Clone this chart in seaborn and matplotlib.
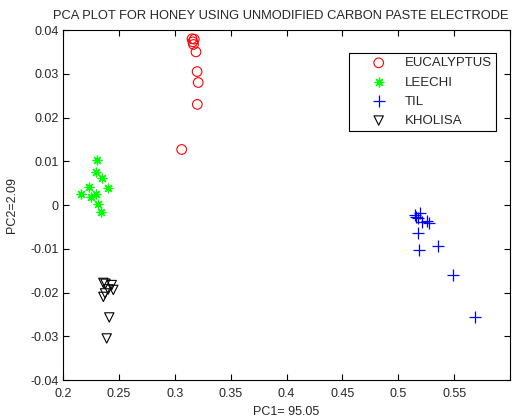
import matplotlib
matplotlib.use("Agg")
import matplotlib.pyplot as plt
import seaborn as sns
import pandas as pd

# Data
euc_x = [0.3155, 0.3175, 0.3162, 0.3168, 0.3190, 0.3200, 0.3210, 0.3202, 0.3062]
euc_y = [0.0380, 0.0379, 0.0373, 0.0367, 0.0350, 0.0305, 0.0280, 0.0230, 0.0127]

lee_x = [0.2307, 0.2293, 0.2346, 0.2235, 0.2400, 0.2158, 0.2295, 0.2251, 0.2316, 0.2337]
lee_y = [0.0103, 0.0076, 0.0061, 0.0042, 0.0040, 0.0025, 0.0025, 0.0018, 0.0002, -0.0015]

til_x = [0.5159, 0.5195, 0.5179, 0.5150, 0.5210, 0.5255, 0.5278, 0.5179, 0.5188, 0.5353, 0.5487, 0.5687]
til_y = [-0.0027, -0.0019, -0.0030, -0.0023, -0.0038, -0.0036, -0.0040, -0.0065, -0.0103, -0.0093, -0.0160, -0.0257]

kho_x = [0.2361, 0.2380, 0.2436, 0.2405, 0.2450, 0.2361, 0.2376, 0.2414, 0.2391]
kho_y = [-0.0178, -0.0180, -0.0183, -0.0193, -0.0194, -0.0210, -0.0202, -0.0257, -0.0305]

groups = ["EUCALYPTUS", "LEECHI", "TIL", "KHOLISA"]
xticks = [0.2, 0.25, 0.3, 0.35, 0.4, 0.45, 0.5, 0.55, 0.6]
xticklabels = ["0.2", "0.25", "0.3", "0.35", "0.4", "0.45", "0.5", "0.55", ""]
yticks = [-0.04, -0.03, -0.02, -0.01, 0, 0.01, 0.02, 0.03, 0.04]
yticklabels = ["-0.04", "-0.03", "-0.02", "-0.01", "0", "0.01", "0.02", "0.03", "0.04"]

sns.set_style("white")
plt.rcParams["font.family"] = ["Liberation Sans", "DejaVu Sans"]
plt.rcParams["xtick.direction"] = "in"
plt.rcParams["ytick.direction"] = "in"

fig = plt.figure(figsize=(5.19, 4.18), dpi=100)
ax = fig.add_axes([0.1214, 0.0909, 0.8613, 0.8373])

data = {
    "EUCALYPTUS": (euc_x, euc_y),
    "LEECHI": (lee_x, lee_y),
    "TIL": (til_x, til_y),
    "KHOLISA": (kho_x, kho_y),
}
styles = {
    "EUCALYPTUS": dict(marker="o", facecolors="none", edgecolors="#ff0000", s=48, linewidths=0.8),
    "LEECHI": dict(marker=(8, 2, 0), color="#00ff00", s=40, linewidths=0.9),
    "TIL": dict(marker="+", color="#0000ff", s=70, linewidths=0.9),
    "KHOLISA": dict(marker="v", facecolors="none", edgecolors="black", s=45, linewidths=0.8),
}
for g in groups:
    xs, ys = data[g]
    df = pd.DataFrame({"x": xs, "y": ys})
    sns.scatterplot(data=df, x="x", y="y", ax=ax, label=g, **styles[g])

ax.set_xlim(0.2, 0.6)
ax.set_ylim(-0.04, 0.04)
ax.set_xticks(xticks)
ax.set_xticklabels(xticklabels)
ax.set_yticks(yticks)
ax.set_yticklabels(yticklabels)
ax.tick_params(axis="both", labelsize=9, length=4, width=0.8, color="black",
               top=True, right=True, bottom=True, left=True)
ax.tick_params(axis="x", pad=6)
ax.tick_params(axis="y", pad=3)
for sp in ax.spines.values():
    sp.set_color("black")
    sp.set_linewidth(0.8)

ax.set_xlabel("PC1= 95.05", fontsize=9, labelpad=4)
ax.set_ylabel("PC2=2.09", fontsize=9, labelpad=9)
ax.set_title("PCA PLOT FOR HONEY USING UNMODIFIED CARBON PASTE ELECTRODE",
             fontsize=9.3, pad=8, x=0.488)

leg = ax.legend(loc="upper right", bbox_to_anchor=(0.969, 0.934), fontsize=9.5,
                frameon=True, fancybox=False, framealpha=1, edgecolor="black",
                borderpad=0.3, labelspacing=0.53, handlelength=3.9, handletextpad=0.05,
                borderaxespad=0)
leg.get_frame().set_linewidth(0.8)

fig.savefig("out.png", dpi=100)
